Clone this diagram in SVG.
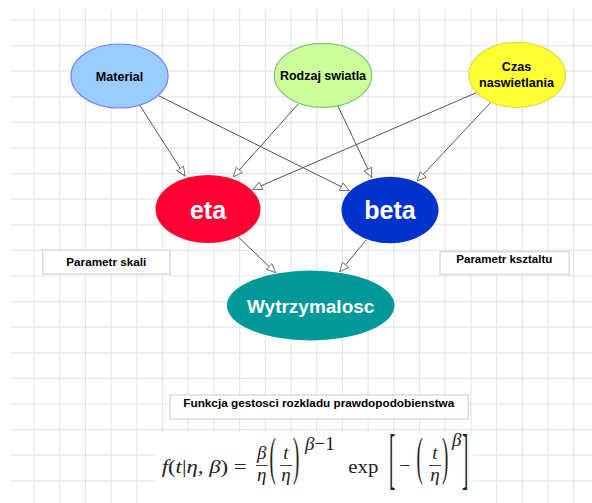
<svg xmlns="http://www.w3.org/2000/svg" width="592" height="503" viewBox="0 0 592 503">
<style>
.grid{stroke:#e6e6e6;stroke-width:1.2;fill:none}
.edge{stroke:#555;stroke-width:1;fill:none;marker-end:url(#arr)}
.lbl{font-family:"Liberation Sans",Arial,sans-serif;font-weight:bold;text-anchor:middle;fill:#000}
.big{font-family:"Liberation Sans",Arial,sans-serif;font-weight:bold;text-anchor:middle;fill:#fff}
.box{fill:#fff;stroke:#dcdcdc;stroke-width:1.5}
.m{font-family:"Liberation Serif","DejaVu Serif",serif;fill:#222;font-size:19px}
.i{font-style:italic}
</style>
<defs>
<marker id="arr" viewBox="0 0 10 10" refX="10" refY="5" markerWidth="10" markerHeight="9" markerUnits="userSpaceOnUse" orient="auto">
<path d="M0,0.5 L10,5 L0,9.5 z" fill="#fff" stroke="#666" stroke-width="1"/>
</marker>
</defs>
<rect width="592" height="503" fill="#fff"/>
<g id="grid" class="grid">
<path d="M34,9V503M59.7,9V503M85.4,9V503M111.1,9V503M136.8,9V503M162.5,9V503M188.2,9V503M213.9,9V503M239.6,9V503M265.3,9V503M291,9V503M316.7,9V503M342.4,9V503M368.1,9V503M393.8,9V503M419.5,9V503M445.2,9V503M470.9,9V503M496.6,9V503M522.3,9V503M548,9V503M573.7,9V503"/>
<path d="M11,20H592M11,45.6H592M11,71.2H592M11,96.8H592M11,122.4H592M11,148H592M11,173.6H592M11,199.2H592M11,224.8H592M11,250.4H592M11,276H592M11,301.6H592M11,327.2H592M11,352.8H592M11,378.4H592M11,404H592M11,429.6H592M11,455.2H592M11,480.8H592"/>
</g>
<g id="connectors">
<line class="edge" x1="139.7" y1="105" x2="185" y2="176"/>
<line class="edge" x1="158.5" y1="95.7" x2="349.2" y2="190.7"/>
<line class="edge" x1="298.2" y1="104" x2="233.3" y2="176.7"/>
<line class="edge" x1="337.9" y1="106" x2="371.8" y2="177.3"/>
<line class="edge" x1="476.4" y1="92.7" x2="252.9" y2="189.3"/>
<line class="edge" x1="490.8" y1="102.3" x2="417.1" y2="181"/>
<line class="edge" x1="238.6" y1="237.3" x2="275.6" y2="272.7"/>
<line class="edge" x1="366.2" y1="240" x2="339.8" y2="271.7"/>
</g>
<g id="material">
<ellipse cx="119.5" cy="76" rx="48.5" ry="32" fill="#99ccff" stroke="#7a7aff" stroke-width="1.2"/>
<text class="lbl" x="119.5" y="80.5" font-size="12.6">Material</text>
</g>
<g id="rodzaj">
<ellipse cx="323" cy="75.3" rx="48.7" ry="32" fill="#ccff99" stroke="#77cc77" stroke-width="1.2"/>
<text class="lbl" x="323" y="80" font-size="12.5">Rodzaj swiatla</text>
</g>
<g id="czas">
<ellipse cx="517.2" cy="74.8" rx="48.3" ry="32.5" fill="#ffff33" stroke="#dddd44" stroke-width="1.2"/>
<text class="lbl" x="516.5" y="71" font-size="12.6">Czas</text>
<text class="lbl" x="516.5" y="87" font-size="12.6">naswietlania</text>
</g>
<g id="eta">
<ellipse cx="208" cy="209" rx="52.5" ry="34" fill="#ff0033"/>
<text class="big" x="208" y="218.5" font-size="25">eta</text>
</g>
<g id="beta">
<ellipse cx="390" cy="210" rx="48.5" ry="33.3" fill="#0033cc"/>
<text class="big" x="390" y="218.5" font-size="25">beta</text>
</g>
<g id="wytrzymalosc">
<ellipse cx="310.7" cy="305.5" rx="83.8" ry="35" fill="#009999"/>
<text class="big" x="310.7" y="313" font-size="19">Wytrzymalosc</text>
</g>
<g id="parametr-skali">
<rect class="box" x="42.7" y="250" width="127.3" height="24"/>
<text class="lbl" x="106.3" y="265.5" font-size="11" textLength="80" lengthAdjust="spacingAndGlyphs">Parametr skali</text>
</g>
<g id="parametr-ksztaltu">
<rect class="box" x="440" y="251.7" width="129.3" height="22.6"/>
<text class="lbl" x="504.3" y="263" font-size="11" textLength="96" lengthAdjust="spacingAndGlyphs">Parametr ksztaltu</text>
</g>
<g id="funkcja">
<rect class="box" x="170" y="395" width="298.3" height="24"/>
<text class="lbl" x="318.8" y="407" font-size="11" textLength="271" lengthAdjust="spacingAndGlyphs">Funkcja gestosci rozkladu prawdopodobienstwa</text>
</g>
<g id="formula">
<rect x="155" y="432" width="317" height="71" fill="#fff"/>
<text class="m" x="161.7" y="473" font-size="20" textLength="85" lengthAdjust="spacingAndGlyphs"><tspan class="i">f</tspan>(<tspan class="i">t</tspan>|<tspan class="i">η</tspan>, <tspan class="i">β</tspan>) =</text>
<text class="m i" x="261.7" y="459" text-anchor="middle">β</text>
<line x1="256" y1="465.5" x2="267.5" y2="465.5" stroke="#222" stroke-width="0.9"/>
<text class="m i" x="261.7" y="481" text-anchor="middle">η</text>
<text class="m" transform="translate(269.5,474) scale(1,2.8)">(</text>
<text class="m i" x="286" y="459" text-anchor="middle">t</text>
<line x1="280" y1="465.5" x2="292" y2="465.5" stroke="#222" stroke-width="0.9"/>
<text class="m i" x="286" y="481" text-anchor="middle">η</text>
<text class="m" transform="translate(293,474) scale(1,2.8)">)</text>
<text class="m" x="305" y="450" font-size="13"><tspan class="i">β</tspan>−1</text>
<text class="m" x="348.3" y="473" textLength="30" lengthAdjust="spacingAndGlyphs">exp</text>
<text class="m" transform="translate(389,481) scale(1,3.6)">[</text>
<text class="m" x="399.5" y="472">−</text>
<text class="m" transform="translate(416.5,474) scale(1,2.8)">(</text>
<text class="m i" x="435" y="459" text-anchor="middle">t</text>
<line x1="429" y1="465.5" x2="441" y2="465.5" stroke="#222" stroke-width="0.9"/>
<text class="m i" x="435" y="481" text-anchor="middle">η</text>
<text class="m" transform="translate(442,474) scale(1,2.8)">)</text>
<text class="m i" x="452" y="446" font-size="13">β</text>
<text class="m" transform="translate(462,481) scale(1,3.6)">]</text>
</g>
</svg>
